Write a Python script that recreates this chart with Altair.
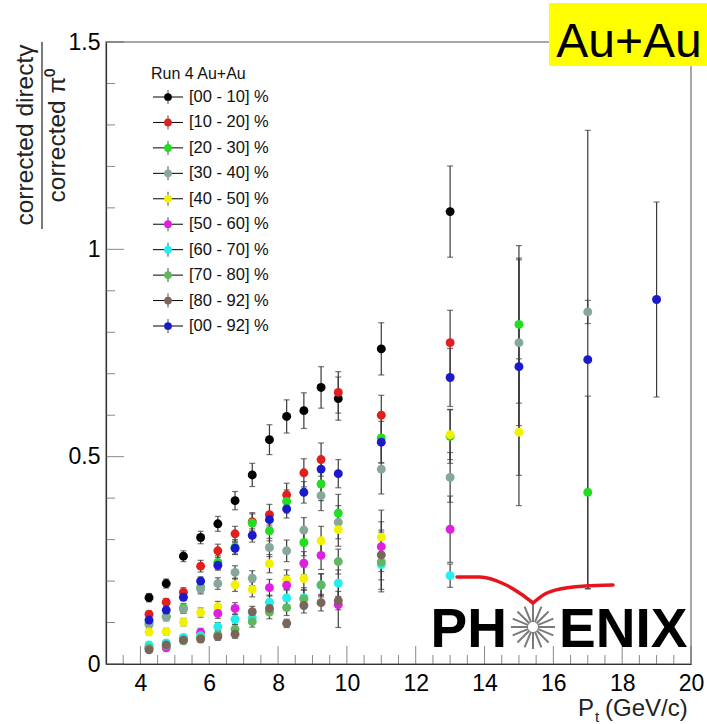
import math
import altair as alt
import pandas as pd

# ---------------- data ----------------
labels = ["[00 - 10] %", "[10 - 20] %", "[20 - 30] %", "[30 - 40] %", "[40 - 50] %",
          "[50 - 60] %", "[60 - 70] %", "[70 - 80] %", "[80 - 92] %", "[00 - 92] %"]
colors = ["#000000", "#e0201e", "#22dd22", "#87a898", "#f2f200",
          "#e020e0", "#22eeee", "#5fb85f", "#7a6658", "#1a1acc"]

pt_low = [4.25, 4.75, 5.25, 5.75, 6.25, 6.75, 7.25, 7.75, 8.25, 8.75, 9.25, 9.75]

pt_00_10 = pt_low + [11, 13]
r_00_10 = [0.160, 0.194, 0.260, 0.305, 0.338, 0.394, 0.456, 0.541, 0.597, 0.611, 0.667, 0.640, 0.760, 1.091]
e_00_10 = [0.010, 0.011, 0.013, 0.015, 0.018, 0.022, 0.028, 0.036, 0.040, 0.043, 0.050, 0.052, 0.063, 0.110]

pt_10_20 = pt_low + [11, 13]
r_10_20 = [0.120, 0.149, 0.173, 0.236, 0.273, 0.314, 0.343, 0.360, 0.408, 0.461, 0.493, 0.655, 0.600, 0.775]
e_10_20 = [0.008, 0.009, 0.011, 0.014, 0.016, 0.018, 0.022, 0.025, 0.028, 0.034, 0.040, 0.050, 0.048, 0.078]

pt_20_30 = pt_low + [11, 13, 15, 17]
r_20_30 = [0.098, 0.115, 0.135, 0.185, 0.245, 0.282, 0.340, 0.321, 0.392, 0.293, 0.434, 0.364, 0.545, 0.549, 0.819, 0.414]
e_20_30 = [0.008, 0.009, 0.011, 0.013, 0.016, 0.018, 0.022, 0.024, 0.028, 0.032, 0.040, 0.045, 0.060, 0.065, 0.190, 0.232]

pt_30_40 = pt_low + [11, 13, 15, 17]
r_30_40 = [0.095, 0.113, 0.132, 0.181, 0.194, 0.221, 0.207, 0.281, 0.273, 0.323, 0.406, 0.342, 0.470, 0.450, 0.775, 0.849]
e_30_40 = [0.008, 0.009, 0.010, 0.012, 0.014, 0.016, 0.018, 0.022, 0.026, 0.030, 0.036, 0.040, 0.060, 0.060, 0.200, 0.028]

pt_40_50 = pt_low + [11, 13, 15]
r_40_50 = [0.077, 0.078, 0.101, 0.124, 0.138, 0.191, 0.180, 0.242, 0.203, 0.206, 0.297, 0.324, 0.306, 0.553, 0.559]
e_40_50 = [0.007, 0.008, 0.009, 0.011, 0.013, 0.016, 0.018, 0.022, 0.024, 0.028, 0.035, 0.040, 0.065, 0.060, 0.177]

pt_50_60 = [4.25, 4.75, 5.25, 5.75, 6.25, 6.75, 7.75, 8.25, 8.75, 9.25, 9.75, 11, 13]
r_50_60 = [0.040, 0.039, 0.062, 0.076, 0.122, 0.134, 0.184, 0.190, 0.243, 0.262, 0.143, 0.283, 0.325]
e_50_60 = [0.006, 0.007, 0.008, 0.010, 0.012, 0.014, 0.020, 0.024, 0.028, 0.034, 0.055, 0.060, 0.080]

pt_60_70 = pt_low + [11, 13]
r_60_70 = [0.046, 0.051, 0.064, 0.068, 0.090, 0.108, 0.112, 0.149, 0.159, 0.160, 0.190, 0.195, 0.240, 0.213]
e_60_70 = [0.006, 0.006, 0.007, 0.008, 0.010, 0.012, 0.014, 0.017, 0.020, 0.024, 0.028, 0.032, 0.060, 0.028]

pt_70_80 = pt_low + [11]
r_70_80 = [0.038, 0.044, 0.056, 0.063, 0.070, 0.084, 0.102, 0.125, 0.136, 0.157, 0.191, 0.247, 0.246]
e_70_80 = [0.005, 0.006, 0.007, 0.008, 0.009, 0.011, 0.013, 0.016, 0.019, 0.022, 0.026, 0.030, 0.072]

pt_80_92 = pt_low + [11]
r_80_92 = [0.034, 0.046, 0.058, 0.060, 0.066, 0.072, 0.126, 0.134, 0.098, 0.141, 0.148, 0.153, 0.263]
e_80_92 = [0.005, 0.006, 0.007, 0.008, 0.009, 0.010, 0.013, 0.015, 0.010, 0.018, 0.020, 0.022, 0.060]

pt_00_92 = pt_low + [11, 13, 15, 17, 19]
r_00_92 = [0.106, 0.130, 0.161, 0.200, 0.238, 0.279, 0.310, 0.348, 0.374, 0.414, 0.470, 0.459, 0.535, 0.691, 0.717, 0.734, 0.879]
e_00_92 = [0.006, 0.007, 0.008, 0.010, 0.012, 0.014, 0.016, 0.018, 0.022, 0.026, 0.030, 0.034, 0.050, 0.070, 0.262, 0.553, 0.235]

x_major = [4, 6, 8, 10, 12, 14, 16, 18, 20]
y_major = [0, 0.5, 1.0, 1.5]

series = [
    (pt_00_10, r_00_10, e_00_10), (pt_10_20, r_10_20, e_10_20), (pt_20_30, r_20_30, e_20_30),
    (pt_30_40, r_30_40, e_30_40), (pt_40_50, r_40_50, e_40_50), (pt_50_60, r_50_60, e_50_60),
    (pt_60_70, r_60_70, e_60_70), (pt_70_80, r_70_80, e_70_80), (pt_80_92, r_80_92, e_80_92),
    (pt_00_92, r_00_92, e_00_92),
]

rows = []
for lab, (pts, rs, es) in zip(labels, series):
    for p, r, e in zip(pts, rs, es):
        rows.append({"label": lab, "pt": p, "r": r, "lo": r - e, "hi": r + e})
df = pd.DataFrame(rows)

x_minor = [3 + 0.5 * i for i in range(1, 34) if (3 + 0.5 * i) not in x_major]
y_minor = [round(0.1 * i, 1) for i in range(1, 15) if round(0.1 * i, 1) not in y_major]

# ---------------- layout constants ----------------
W, H = 585, 622
FONT = "Liberation Sans"

xs = alt.Scale(domain=[3, 20], nice=False, zero=False)
ys = alt.Scale(domain=[0, 1.5], nice=False, zero=False)
cs = alt.Scale(domain=labels, range=colors)

x_enc = alt.X("pt:Q", scale=xs,
              axis=alt.Axis(values=x_major, ticks=False, grid=False, title=None, labelFontSize=23,
                            labelFont=FONT, labelColor="#000", labelPadding=8, labelFlush=False,
                            domainColor="#333", domainWidth=1.2))
y_enc_axis = alt.Axis(values=y_major, format="~g", ticks=False, grid=False, title=None, labelFontSize=23,
                      labelFont=FONT, labelColor="#000", labelPadding=6, domainColor="#333",
                      domainWidth=1.2)

base = alt.Chart(df)

err = base.mark_rule(color="#3a3a3a", strokeWidth=1.2).encode(
    x=x_enc, y=alt.Y("lo:Q", scale=ys, axis=y_enc_axis), y2="hi:Q")
cap_lo = base.mark_tick(orient="horizontal", size=6, thickness=1.2, color="#3a3a3a").encode(
    x=alt.X("pt:Q", scale=xs), y=alt.Y("lo:Q", scale=ys))
cap_hi = base.mark_tick(orient="horizontal", size=6, thickness=1.2, color="#3a3a3a").encode(
    x=alt.X("pt:Q", scale=xs), y=alt.Y("hi:Q", scale=ys))
pts = base.mark_circle(size=80, opacity=1).encode(
    x=alt.X("pt:Q", scale=xs), y=alt.Y("r:Q", scale=ys),
    color=alt.Color("label:N", scale=cs, legend=None))

tick_style = dict(color="#555", thickness=1)
xt_maj = alt.Chart(pd.DataFrame({"v": x_major})).mark_tick(orient="vertical", size=18, **tick_style).encode(
    x=alt.X("v:Q", scale=xs), y=alt.value(H - 9))
xt_min = alt.Chart(pd.DataFrame({"v": x_minor})).mark_tick(orient="vertical", size=9, **tick_style).encode(
    x=alt.X("v:Q", scale=xs), y=alt.value(H - 4.5))
yt_maj = alt.Chart(pd.DataFrame({"v": y_major})).mark_tick(orient="horizontal", size=18, **tick_style).encode(
    y=alt.Y("v:Q", scale=ys), x=alt.value(9))
yt_min = alt.Chart(pd.DataFrame({"v": y_minor})).mark_tick(orient="horizontal", size=9, **tick_style).encode(
    y=alt.Y("v:Q", scale=ys), x=alt.value(4.5))

main = alt.layer(err, xt_maj, xt_min, yt_maj, yt_min, cap_lo, cap_hi, pts)

# ---------------- legend (drawn inside the frame) ----------------
leg_df = pd.DataFrame({"label": labels, "row": list(range(len(labels)))})
ly = alt.Y("row:Q", scale=alt.Scale(domain=[0, 9], range=[55, 284]), axis=None)
lbase = alt.Chart(leg_df)
leg_line = lbase.mark_rule(color="#000", strokeWidth=1).encode(
    x=alt.value(47), x2=alt.value(77), y=ly)
leg_vert = lbase.mark_tick(orient="vertical", size=14, thickness=1, color="#000").encode(
    x=alt.value(62), y=ly)
leg_dot = lbase.mark_circle(size=60, opacity=1).encode(
    x=alt.value(62), y=ly, color=alt.Color("label:N", scale=cs, legend=None))
leg_txt = lbase.mark_text(align="left", baseline="middle", font=FONT, fontSize=16.5, color="#111").encode(
    x=alt.value(83), y=ly, text="label:N")
leg_title = alt.Chart(pd.DataFrame({"t": ["Run 4 Au+Au"]})).mark_text(
    align="left", baseline="middle", font=FONT, fontSize=16, color="#111").encode(
    x=alt.value(45), y=alt.value(32), text="t:N")
legend = alt.layer(leg_line, leg_vert, leg_dot, leg_txt, leg_title)

# ---------------- decorations: titles, Au+Au box, PHENIX logo ----------------
def txt(s, x, y, size, align="left", weight="normal", angle=0, color="#000", baseline="alphabetic"):
    kw = dict(align=align, baseline=baseline, font=FONT, fontSize=size, fontWeight=weight, color=color)
    if angle:
        kw["angle"] = angle
    return alt.Chart(pd.DataFrame({"t": [s]})).mark_text(**kw).encode(
        x=alt.value(x), y=alt.value(y), text="t:N")

ytitle_num = txt("corrected directγ", -73, 93, 24.5, align="center", angle=270, color="#222")
ytitle_den = txt("corrected π⁰", -41, 93, 24.5, align="center", angle=270, color="#222")
frac_line = alt.Chart(pd.DataFrame({"a": [0]})).mark_rule(color="#333", strokeWidth=1.3).encode(
    x=alt.value(-64), y=alt.value(0), y2=alt.value(187))
xt_P = txt("P", 472, 674, 24, color="#222")
xt_t = txt("t", 489, 680, 15, color="#222")
xt_rest = txt("(GeV/c)", 499, 674, 24, color="#222")

au_box = alt.Chart(pd.DataFrame({"a": [0]})).mark_rect(color="#ffff00").encode(
    x=alt.value(443), x2=alt.value(605), y=alt.value(-39), y2=alt.value(24))
au_txt = txt("Au+Au", 523, 15, 48, align="center")

ph_txt = txt("PH", 401, 605, 55, align="right", weight="bold")
enix_txt = txt("ENIX", 453, 605, 55, align="left", weight="bold")

cx, cy = 533 - 106, 627 - 42
spokes = pd.DataFrame([
    {"x": cx + 5 * math.cos(a), "y": cy + 5 * math.sin(a),
     "x2": cx + 22 * math.cos(a), "y2": cy + 22 * math.sin(a)}
    for a in [k * math.pi / 8 for k in range(16)]
])
star = alt.Chart(spokes).mark_rule(color="#7a7a7a", strokeWidth=2).encode(
    x=alt.X("x:Q", scale=None, axis=None), y=alt.Y("y:Q", scale=None, axis=None),
    x2="x2:Q", y2="y2:Q")

swoosh_pts = pd.DataFrame({
    "seg": ["a"] * 5 + ["b"] * 5,
    "i": list(range(10)),
    "x": [457, 480, 504, 521, 533, 533, 545, 560, 585, 613],
    "y": [577, 577, 584, 594, 603, 603, 594, 589, 586, 585],
})
swoosh_pts["x"] = swoosh_pts["x"] - 106
swoosh_pts["y"] = swoosh_pts["y"] - 42
swoosh = alt.Chart(swoosh_pts).mark_line(color="#e8141c", strokeWidth=3.5, interpolate="monotone",
                                         strokeCap="round").encode(
    x=alt.X("x:Q", scale=None, axis=None), y=alt.Y("y:Q", scale=None, axis=None),
    detail="seg:N", order="i:Q")

decor = alt.layer(ytitle_num, ytitle_den, frac_line, xt_P, xt_t, xt_rest, au_box, au_txt,
                  swoosh, star, ph_txt, enix_txt)

chart = alt.layer(main, legend, decor).resolve_scale(
    x="independent", y="independent"
).properties(
    width=W, height=H,
    padding={"left": 106, "top": 42, "right": 16, "bottom": 60},
    autosize=alt.AutoSizeParams(type="none"),
    background="white",
).configure_view(stroke="#8a8a8a", strokeWidth=1.5)

chart.save("out.html", embed_options={"renderer": "svg", "actions": False})
